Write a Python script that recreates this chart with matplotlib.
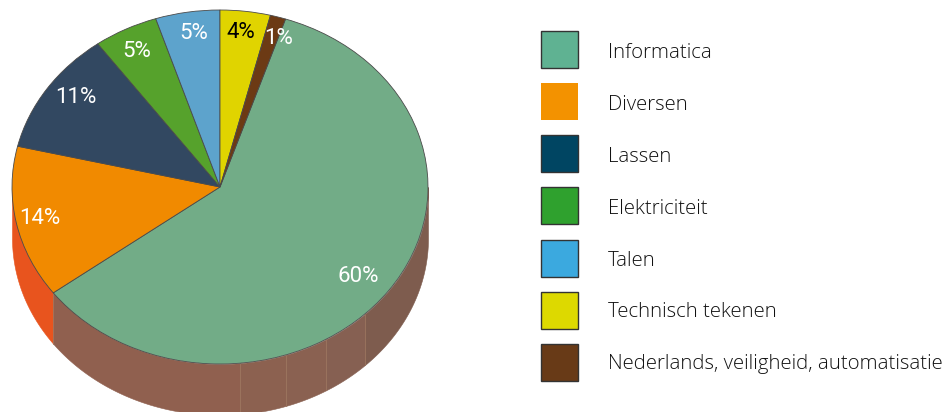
import numpy as np
import matplotlib
matplotlib.use("Agg")
import matplotlib.pyplot as plt
from matplotlib.patches import Rectangle

# data
categories = ["Informatica", "Diversen", "Lassen", "Elektriciteit", "Talen",
              "Technisch tekenen", "Nederlands, veiligheid, automatisatie"]
values = [59.7, 13.9, 11.3, 5, 5, 3.9, 1.2]
pct_labels = ["60%", "14%", "11%", "5%", "5%", "4%", "1%"]

pie_colors = ["#72AC87", "#F18A00", "#324861", "#56A22C", "#5DA3CC", "#E0D400", "#6C3A14"]
legend_colors = ["#5FB292", "#F39200", "#004562", "#2FA12E", "#3BA9DF", "#DDD900", "#683A17"]
label_colors = ["white", "white", "white", "white", "white", "black", "white"]

W, H = 946, 412
CX, CY, RX, RY = 220, 187, 208, 177   # ellips in pixels
DEPTH = 51 / RY

plt.rcParams["font.family"] = ["Roboto", "DejaVu Sans"]

fig = plt.figure(figsize=(W / 100, H / 100), dpi=100)
ax = fig.add_axes([0, 0, 1, 1])

start = 90 - (values[5] + values[6]) * 3.6
wedges, _ = ax.pie(values, startangle=start, counterclock=False, radius=1,
                   colors=pie_colors,
                   wedgeprops={"edgecolor": "#4a4a4a", "linewidth": 0.6, "zorder": 3})

# pie() forces equal aspect, stretch it to the ellipse
ax.set_aspect("auto")
ax.set_xlim(-CX / RX, (W - CX) / RX)
ax.set_ylim((CY - H) / RY, CY / RY)
ax.axis("off")


def side(a1, a2, color):
    t = np.radians(np.linspace(a1, a2, 80))
    x = np.cos(t)
    ax.fill_between(x, np.sin(t), np.sin(t) - DEPTH, color=color, lw=0.4, zorder=1)


# zijkant: oranje stuk links, daarna de bruine vlakken
orange_end = start - values[0] * 3.6 + 360
side(180, orange_end, "#E8541E")
side_angles = [orange_end - 360, -84.5, -71.5, -59.4, -45.8, 0]
side_colors = ["#90604F", "#8C6150", "#8A6151", "#866052", "#7E5C4E"]
for i in range(len(side_colors)):
    side(side_angles[i], side_angles[i + 1], side_colors[i])
for a in side_angles[:-1]:
    t = np.radians(a)
    ax.plot([np.cos(t)] * 2, [np.sin(t), np.sin(t) - DEPTH],
            color="#A07860", lw=0.5, zorder=2)

# overlay in pixels for labels and legend
ov = fig.add_axes([0, 0, 1, 1])
ov.set_xlim(0, W)
ov.set_ylim(H, 0)
ov.axis("off")
ov.patch.set_alpha(0)

label_x = [358, 40, 76, 137, 194, 241, 279]
label_y = [277, 218, 97, 51, 33, 32, 38]
for i in range(len(pct_labels)):
    ov.text(label_x[i], label_y[i], pct_labels[i], color=label_colors[i],
            fontsize=16, ha="center", va="center")

for i, name in enumerate(categories):
    y = 30.5 + i * 52.3
    edge = "none" if i == 1 else "#333333"
    ov.add_patch(Rectangle((541, y), 37, 37, facecolor=legend_colors[i],
                           edgecolor=edge, linewidth=1))
    ov.text(608, 58.3 + i * 51.8, name, color="#111111", fontsize=14.65,
            va="baseline", ha="left",
            family=["Open Sans", "DejaVu Sans"], weight="light")

fig.savefig("out.png", dpi=100)
plt.close()
